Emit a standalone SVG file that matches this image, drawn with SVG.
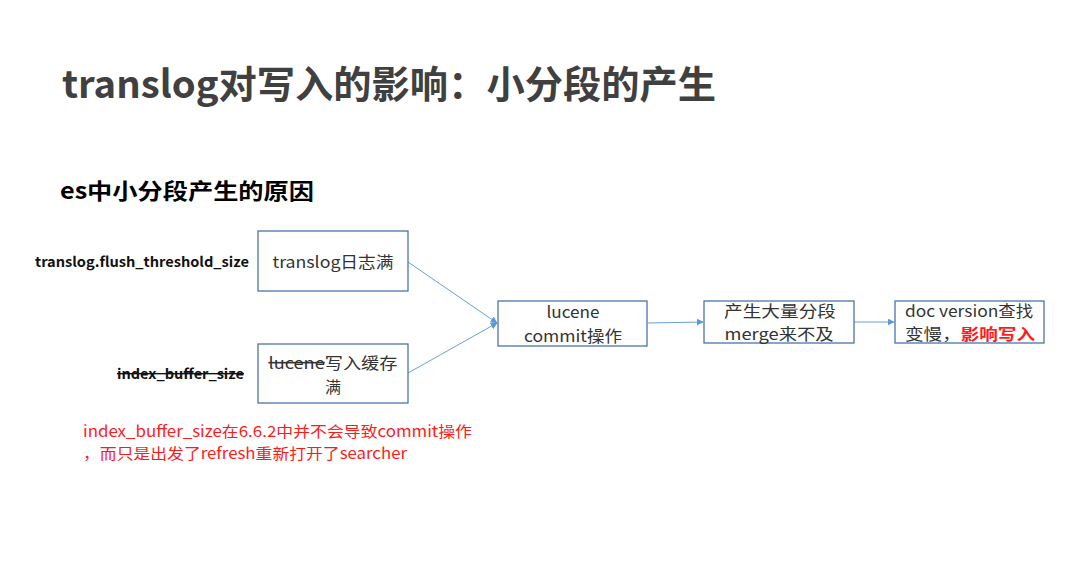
<svg xmlns="http://www.w3.org/2000/svg" width="1080" height="581" viewBox="0 0 1080 581">
<defs>
<style>
.t{font-family:"Noto Sans CJK SC","Microsoft YaHei",sans-serif}
.box{fill:#fff;stroke:#4a74a8;stroke-width:1.3}
.bt{font-family:"Noto Sans CJK SC",sans-serif;font-size:16px;fill:#333;text-anchor:middle}
.sm{font-size:15.5px}
.lbl{font-family:"Noto Sans CJK SC",sans-serif;font-size:14px;font-weight:bold;fill:#111;text-anchor:end}
.red{font-family:"Noto Sans CJK SC",sans-serif;font-size:15px;fill:#ff1a1a}
.conn{stroke:#6a9fd6;stroke-width:1;fill:none;marker-end:url(#ah)}
</style>
<marker id="ah" viewBox="0 0 10 10" refX="9" refY="5" markerWidth="7" markerHeight="7" markerUnits="userSpaceOnUse" orient="auto">
<path d="M0,0 L10,5 L0,10 z" fill="#5b9bd5"/>
</marker>
</defs>
<rect width="1080" height="581" fill="#fff"/>
<text class="t" x="62" y="98" font-size="38" font-weight="bold" fill="#404040" textLength="654" lengthAdjust="spacingAndGlyphs">translog对写入的影响：小分段的产生</text>
<text class="t" x="60" y="199" font-size="22" font-weight="bold" fill="#000" textLength="254" lengthAdjust="spacingAndGlyphs">es中小分段产生的原因</text>

<g id="label1"><text class="lbl" x="249" y="267" textLength="214" lengthAdjust="spacingAndGlyphs">translog.flush_threshold_size</text></g>
<g id="label2"><text class="lbl" x="244" y="379" text-decoration="line-through" textLength="127" lengthAdjust="spacingAndGlyphs">index_buffer_size</text></g>

<g id="connectors">
<line class="conn" x1="408" y1="262" x2="497" y2="323"/>
<line class="conn" x1="408" y1="373" x2="497" y2="323"/>
<line class="conn" x1="648" y1="323" x2="703" y2="322"/>
<line class="conn" x1="854" y1="322" x2="894" y2="322"/>
</g>

<g id="n1"><rect class="box" x="258" y="231" width="150" height="60"/>
<text class="bt" x="333" y="268" textLength="121" lengthAdjust="spacingAndGlyphs">translog日志满</text></g>
<g id="n2"><rect class="box" x="258" y="344" width="150" height="59"/>
<text class="bt" x="333" y="369" textLength="129" lengthAdjust="spacingAndGlyphs"><tspan text-decoration="line-through">lucene</tspan>写入缓存</text>
<text class="bt" x="333" y="393">满</text></g>
<g id="n3"><rect class="box" x="498" y="301" width="149" height="45"/>
<text class="bt" x="573" y="318" textLength="53" lengthAdjust="spacingAndGlyphs">lucene</text>
<text class="bt" x="573" y="342" textLength="98" lengthAdjust="spacingAndGlyphs">commit操作</text></g>
<g id="n4"><rect class="box" x="704" y="301" width="150" height="42"/>
<text class="bt sm" x="780" y="317" textLength="112" lengthAdjust="spacingAndGlyphs">产生大量分段</text>
<text class="bt sm" x="779" y="340" textLength="109" lengthAdjust="spacingAndGlyphs">merge来不及</text></g>
<g id="n5"><rect class="box" x="895" y="301" width="149" height="42"/>
<text class="bt sm" x="969" y="317" textLength="128" lengthAdjust="spacingAndGlyphs">doc version查找</text>
<text class="bt sm" x="970" y="340" textLength="130" lengthAdjust="spacingAndGlyphs">变慢，<tspan fill="#ff1a1a" font-weight="bold">影响写入</tspan></text></g>

<g id="note">
<text class="red" x="83" y="437" textLength="389" lengthAdjust="spacingAndGlyphs">index_buffer_size在6.6.2中并不会导致commit操作</text>
<text class="red" x="83" y="459" textLength="324" lengthAdjust="spacingAndGlyphs">，而只是出发了refresh重新打开了searcher</text>
</g>
</svg>
